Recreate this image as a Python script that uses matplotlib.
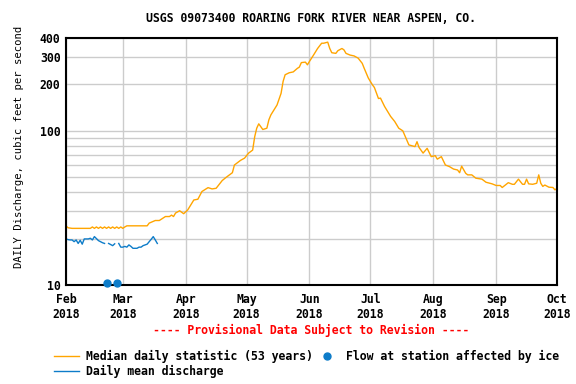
import numpy as np
import pandas as pd
import matplotlib
matplotlib.use("Agg")
import matplotlib.pyplot as plt
import matplotlib.dates as mdates
from matplotlib.lines import Line2D

# days after 2018-02-01 and the median daily statistic (cfs)
median_days = [0, 1, 3, 5, 8, 12, 13, 14, 15, 16, 17, 18, 19, 20, 21, 22, 23, 24, 25, 26, 27, 28, 29, 30,
               35, 40, 41, 44, 46, 49, 51, 52, 53, 54, 56, 58, 60, 63, 65, 67, 70, 72, 74, 77, 79, 82, 83,
               86, 88, 90, 92, 93, 94, 95, 97, 99, 100, 101, 104, 106, 107, 108, 110, 112, 114, 115, 116,
               118, 119, 120, 122, 124, 126, 127, 129, 130, 131, 133, 134, 136, 137, 138, 140, 142, 144,
               146, 147, 149, 151, 152, 154, 155, 157, 160, 162, 164, 166, 168, 169, 172, 173, 174, 176,
               178, 180, 182, 183, 185, 187, 189, 191, 193, 194, 195, 197, 198, 200, 202, 205, 207, 210,
               212, 214, 215, 218, 220, 221, 223, 225, 226, 227, 228, 230, 232, 233, 234, 235, 236, 238,
               240, 241, 242]
median_cfs = [24.2, 23.5, 23.3, 23.3, 23.3, 23.3, 23.8, 23.3, 23.8, 23.3, 23.8, 23.3, 23.8, 23.3, 23.8,
              23.3, 23.8, 23.3, 23.8, 23.3, 23.8, 23.3, 23.8, 24.2,
              24.2, 24.2, 25.2, 26.2, 26.2, 27.8, 27.8, 28.4, 27.8, 29.3, 30.3, 29.0, 30.7, 35.6, 36.0,
              40.4, 42.8, 42.0, 42.4, 47.6, 50.0, 53.5, 60.0,
              64.3, 66.5, 71.7, 75.0, 91.5, 104, 111, 102, 104, 118, 127, 147, 175, 209, 231, 238, 241,
              254, 259, 277, 279, 268, 282, 310, 342, 370, 370, 376, 342, 321, 318, 331, 342, 335, 318,
              310, 306, 296, 274, 254, 220, 199, 191, 162, 163, 144, 124, 115, 104, 100, 87, 81, 79, 85,
              78, 71.7, 77, 68, 69, 65.5, 68, 60, 58.6, 56.5, 55.7, 53.5, 59, 53, 51.8, 51.8, 49.3, 48.6,
              46.4, 45.3, 44.2, 44.2, 42.9, 46.1, 45, 45, 48.6, 45, 45, 48.6, 45.3, 45, 45.7, 51.8, 45.7,
              43.6, 44.5, 43.1, 42.9, 41.4, 42.4]

# daily mean discharge, Feb 1 - Mar 16 (nan = ice affected)
mean_cfs = [19.9, 19.7, 19.6, 19.6, 19.1, 19.6, 18.6, 19.5, 18.4, 19.9, 19.9, 19.9, 20.1, 19.6, 20.6,
            20.0, 19.4, 19.1, 18.8, 18.6, np.nan, 18.6, 18.3, 18.0, 18.5, np.nan, 18.6, 17.6, 17.6, 17.8,
            17.6, 18.2, 17.8, 17.3, 17.3, 17.3, 17.6, 17.6, 18.0, 18.2, 18.4, 19.1, 19.8, 20.6, 19.6, 18.6]

ice_dates = ["2018-02-21", "2018-02-26"]
ice_cfs = [10.3, 10.3]

start = pd.Timestamp("2018-02-01")
median_dates = start + pd.to_timedelta(median_days, unit="D")
mean_dates = pd.date_range(start, periods=len(mean_cfs), freq="D")
ice_dates = pd.to_datetime(ice_dates)

orange = "#ffa500"
blue = "#0d7cc9"
plt.rcParams["font.family"] = "DejaVu Sans Mono"
plt.rcParams["font.weight"] = "bold"
plt.rcParams["font.size"] = 8.3

fig = plt.figure(figsize=(5.76, 3.84), dpi=100)
ax = fig.add_axes([66 / 576, 1 - 285 / 384, 491 / 576, 247 / 384])

ax.plot(median_dates, median_cfs, color=orange, lw=1)
ax.plot(mean_dates, mean_cfs, color=blue, lw=1)
ax.plot(ice_dates, ice_cfs, "o", color=blue, ms=5, clip_on=False, zorder=5)

ax.set_yscale("log")
ax.set_ylim(10, 400)
ax.set_xlim(pd.Timestamp("2018-02-01"), pd.Timestamp("2018-10-01"))

ax.set_yticks([10, 100, 200, 300, 400])
ax.set_yticklabels(["10", "100", "200", "300", "400"])
ax.set_yticks([20, 30, 40, 50, 60, 70, 80, 90], minor=True)
ax.yaxis.set_minor_formatter(matplotlib.ticker.NullFormatter())

ax.xaxis.set_major_locator(mdates.MonthLocator())
ax.xaxis.set_major_formatter(mdates.DateFormatter("%b\n%Y"))

ax.grid(True, which="both", color="#cccccc", lw=1)
ax.set_axisbelow(True)
ax.tick_params(which="both", length=0, pad=4)
ax.tick_params(axis="x", pad=5.5)
for s in ax.spines.values():
    s.set_linewidth(1.5)

ax.set_ylabel("DAILY Discharge, cubic feet per second", fontsize=7.6)
ax.yaxis.set_label_coords(-0.085, 0.56)
fig.text(311 / 576, 1 - 19 / 384, "USGS 09073400 ROARING FORK RIVER NEAR ASPEN, CO.",
         ha="center", va="center")
fig.text(311 / 576, 1 - 330 / 384, "---- Provisional Data Subject to Revision ----",
         ha="center", va="center", color="red")

handles = [Line2D([], [], color=orange, lw=1),
           Line2D([], [], color=blue, lw=1),
           Line2D([], [], ls="none", marker="o", color=blue, ms=5)]
labels = ["Median daily statistic (53 years)", "Daily mean discharge",
          "Flow at station affected by ice"]
fig.legend(handles, labels, ncol=2, loc="upper left", bbox_to_anchor=(48 / 576, 1 - 344 / 384),
           frameon=False, handlelength=2.2, handletextpad=0.6, columnspacing=0.1,
           labelspacing=0.2, borderpad=0)

fig.savefig("out.png", dpi=100)
